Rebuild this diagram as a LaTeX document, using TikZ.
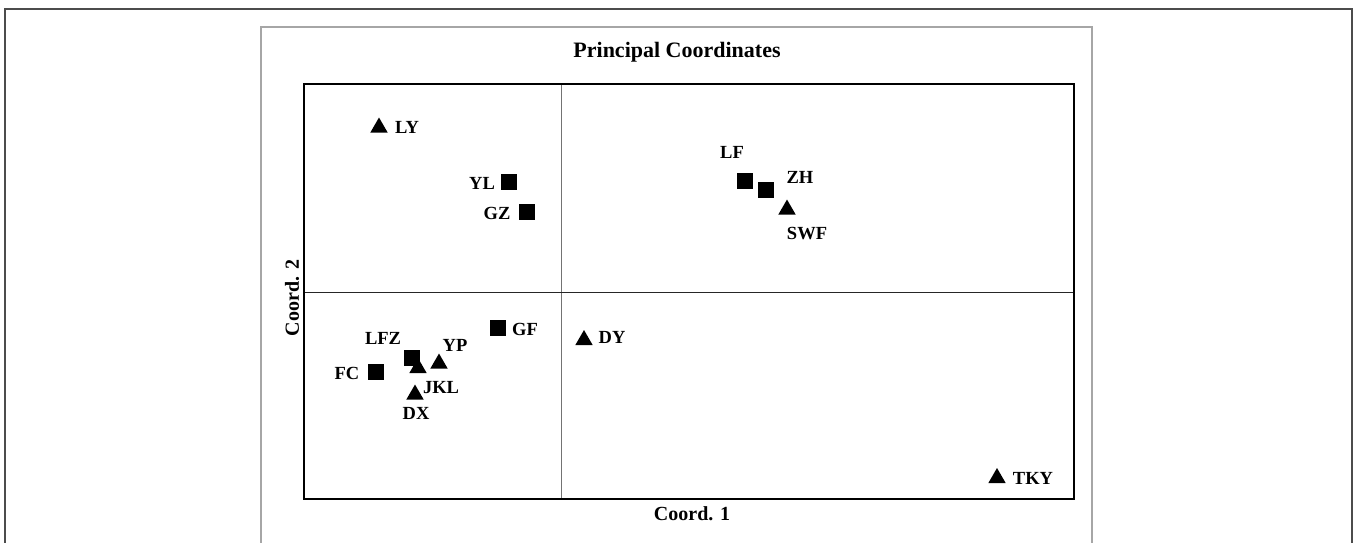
\documentclass[tikz,border=0pt]{standalone}
\usepackage{fontspec}
\setmainfont{Liberation Serif}
\usetikzlibrary{shapes.geometric}
\begin{document}
\begin{tikzpicture}[x=1pt,y=-1pt,
  sqmark/.style={draw=none,fill=black,minimum size=16.5pt,inner sep=0pt,outer sep=0pt},
  trimark/.style={draw=none,fill=black,regular polygon,regular polygon sides=3,minimum size=20pt,inner sep=0pt,outer sep=0pt},
  lbl/.style={font=\fontsize{18.5}{18.5}\selectfont\bfseries,inner sep=0pt},
  axlbl/.style={font=\fontsize{20}{20}\selectfont\bfseries,inner sep=0pt},
  outerframe/.style={draw=black!70,line width=1.4pt},
  chartframe/.style={draw=black!35,line width=1.4pt},
  plotframe/.style={draw=black,line width=1.3pt},
  divider/.style={line width=0.9pt}]
\useasboundingbox (0,0) rectangle (1357,542);
% frames
\draw[outerframe] (5,560) -- (5,9) -- (1352,9) -- (1352,560);
\draw[chartframe] (261,560) -- (261,27) -- (1092,27) -- (1092,560);
\coordinate (pTL) at (304,84);
\coordinate (pBR) at (1074,499);
\coordinate (vTop) at (561,84);
\coordinate (vBot) at (561,499);
\coordinate (hL) at (304,292);
\coordinate (hR) at (1074,292);
\draw[divider,black!55] (vTop) -- (vBot);
\draw[divider,black!85] (hL) -- (hR);
\draw[plotframe] (pTL) rectangle (pBR);
% titles
\node[font=\fontsize{22}{22}\selectfont\bfseries,inner sep=0pt] (title) at (677,52) {Principal Coordinates};
\node[axlbl] (xlab) at (692,514) {Coord. 1};
\node[axlbl,rotate=90] (ylab) at (292,298) {Coord. 2};
% markers
\node[trimark] (mLY) at (379,127.5) {};
\node[lbl] (tLY) at (407,127) {LY};
\node[sqmark] (mYL) at (509,182) {};
\node[lbl] (tYL) at (482,183) {YL};
\node[sqmark] (mGZ) at (527,212) {};
\node[lbl] (tGZ) at (497,213) {GZ};
\node[sqmark] (mLF) at (745,181) {};
\node[lbl] (tLF) at (732,152) {LF};
\node[sqmark] (mZH) at (766,190) {};
\node[lbl] (tZH) at (800,177) {ZH};
\node[trimark] (mSWF) at (787,209.5) {};
\node[lbl] (tSWF) at (807,234) {SWF};
\node[sqmark] (mGF) at (498,328) {};
\node[lbl] (tGF) at (525,329) {GF};
\node[trimark] (mDY) at (584,340) {};
\node[lbl] (tDY) at (612,337) {DY};
\node[sqmark] (mLFZ) at (412,358) {};
\node[lbl] (tLFZ) at (383,338) {LFZ};
\node[trimark] (mJKL) at (418,368) {};
\node[lbl] (tJKL) at (441,388) {JKL};
\node[trimark] (mYP) at (439,363.5) {};
\node[lbl] (tYP) at (455,345) {YP};
\node[sqmark] (mFC) at (376,372) {};
\node[lbl] (tFC) at (347,373) {FC};
\node[trimark] (mDX) at (415,394.5) {};
\node[lbl] (tDX) at (416,413) {DX};
\node[trimark] (mTKY) at (997,478) {};
\node[lbl] (tTKY) at (1033,478) {TKY};
\end{tikzpicture}
\end{document}
